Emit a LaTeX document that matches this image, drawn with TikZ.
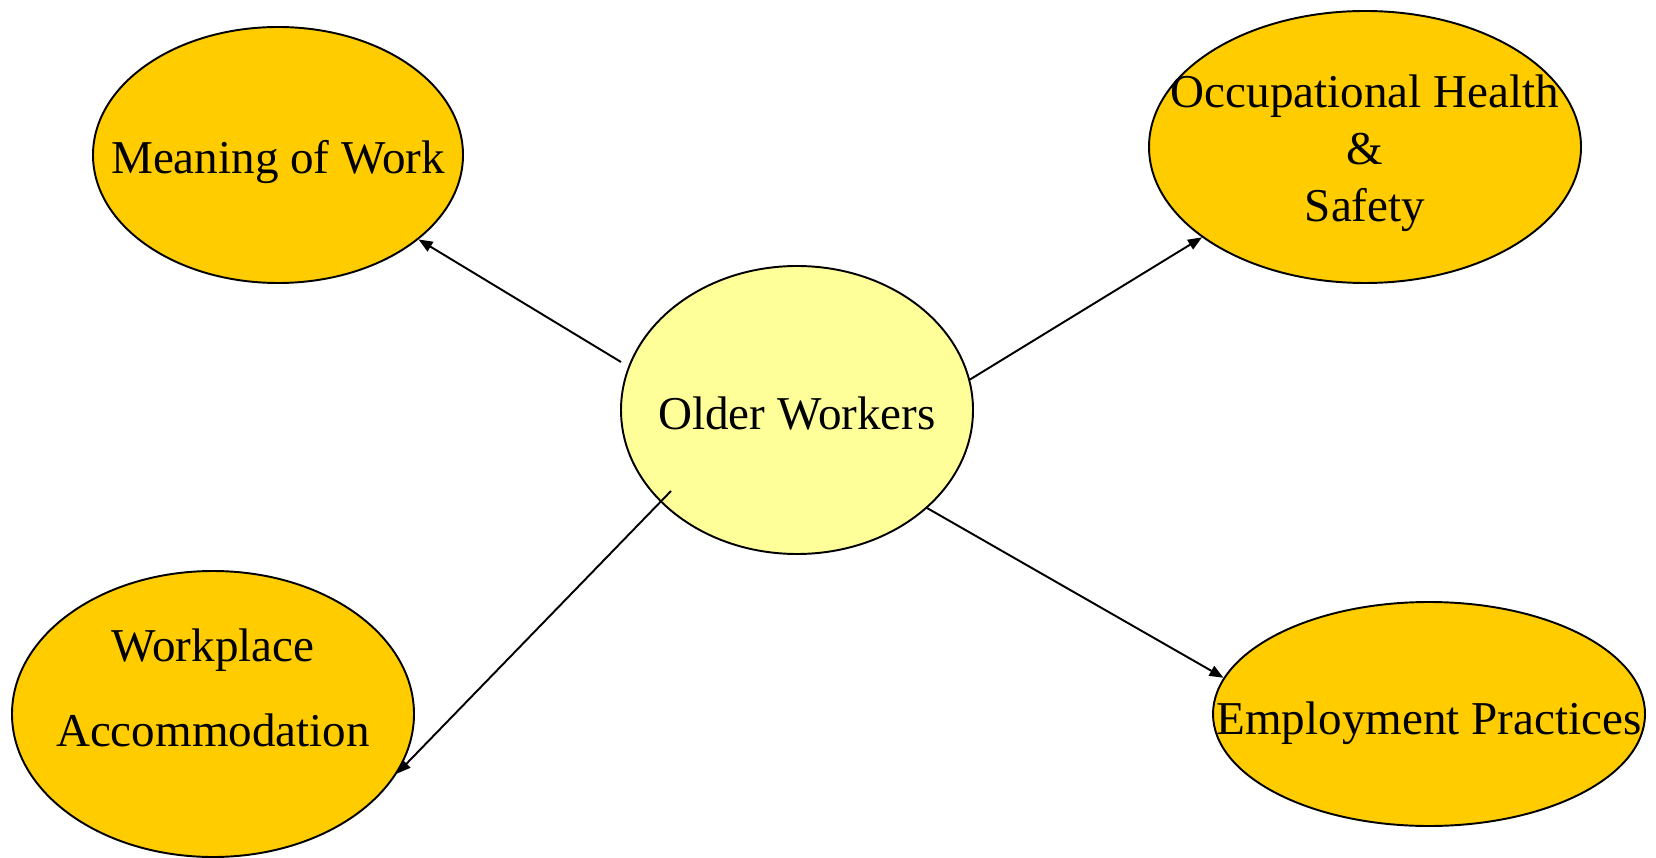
\documentclass[tikz,border=0pt]{standalone}
\usepackage{fontspec}
\setmainfont{Liberation Serif}
\usetikzlibrary{arrows.meta,shapes.geometric,positioning}

% text that does not widen its bubble
\newcommand{\bubtext}[2][0pt]{\makebox[0pt]{\raisebox{#1}[0pt][0pt]{\begin{tabular}{@{}c@{}}#2\end{tabular}}}}

\tikzset{
	>={Triangle[length=2.8mm, width=2.2mm]},
	topic/.style={ellipse, draw=black, line width=1.1pt, fill=TopicGold,
		inner sep=0pt, font=\fontsize{26.8}{32.4}\selectfont},
	hub/.style={topic, fill=HubYellow},
	link/.style={black, line width=1.1pt, ->},
}

\begin{document}
\begin{tikzpicture}[line join=round]
		
		% Colors
		\definecolor{TopicGold}{RGB}{255,204,0}   % outer bubbles
		\definecolor{HubYellow}{RGB}{255,255,153} % centre bubble
		
		\useasboundingbox (0,0) rectangle (33.12,17.14);
		
		% --- centre ---
		\node[hub, minimum width=7.04cm, minimum height=5.76cm] (ow) at (15.94,8.94) {\bubtext[-0.38cm]{Older Workers}};
		
		% --- four topics round it ---
		\node[topic, minimum width=7.4cm, minimum height=5.12cm] (mow) at (5.56,14.04) {\bubtext[-0.37cm]{Meaning of Work}};
		\node[topic, minimum width=8.64cm, minimum height=5.44cm] (ohs) at (27.30,14.20) {\bubtext[-0.34cm]{Occupational Health\\\&\\Safety}};
		\node[topic, minimum width=8.04cm, minimum height=5.72cm] (wpa) at (4.26,2.86)
		{\bubtext[0.2cm]{Workplace\\[16pt]Accommodation}};
		\node[topic, minimum width=8.64cm, minimum height=4.48cm] (emp) at (28.58,2.86) {\bubtext[-0.4cm]{Employment Practices}};
		
		% --- links ---
		\draw[link] ([shift={(-3.52,0.96)}]ow.center) -- (mow.-31);
		\draw[link] (ow.10.2) -- (ohs.209.6);
		\draw[link] ([shift={(-2.52,-1.62)}]ow.center) -- (wpa.-18.4);
		\draw[link] (ow.-37) -- (emp.170.6);
		
	\end{tikzpicture}
\end{document}
